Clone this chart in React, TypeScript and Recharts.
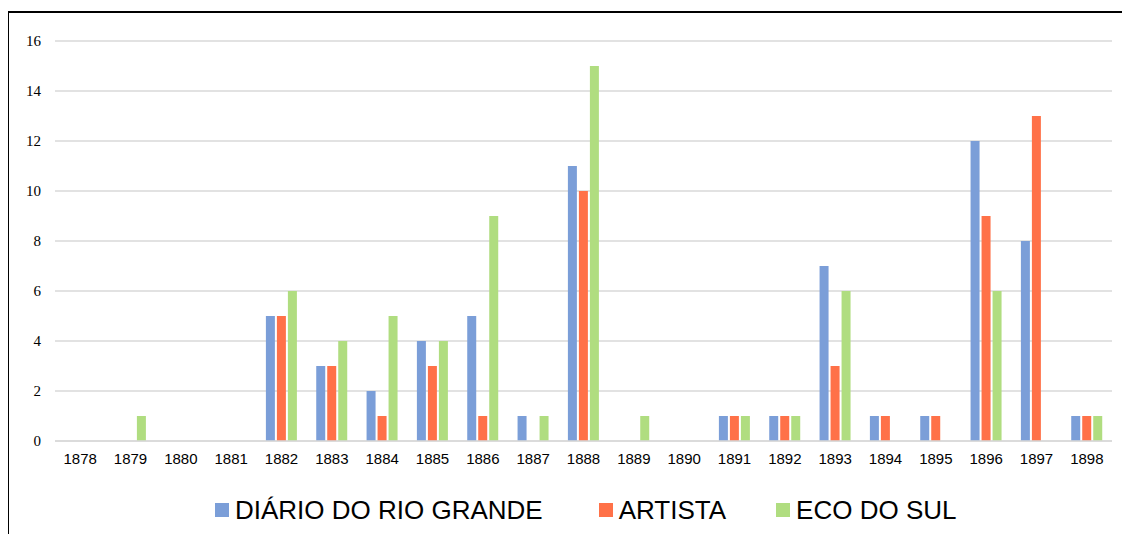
import React from 'react';
import {
  BarChart,
  Bar,
  XAxis,
  YAxis,
  CartesianGrid,
  Legend,
} from 'recharts';

const years = [
  '1878', '1879', '1880', '1881', '1882', '1883', '1884', '1885', '1886', '1887', '1888',
  '1889', '1890', '1891', '1892', '1893', '1894', '1895', '1896', '1897', '1898',
];
const diario = [0, 0, 0, 0, 5, 3, 2, 4, 5, 1, 11, 0, 0, 1, 1, 7, 1, 1, 12, 8, 1];
const artista = [0, 0, 0, 0, 5, 3, 1, 3, 1, 0, 10, 0, 0, 1, 1, 3, 1, 1, 9, 13, 1];
const ecoDoSul = [0, 1, 0, 0, 6, 4, 5, 4, 9, 1, 15, 1, 0, 1, 1, 6, 0, 0, 6, 0, 1];
const yTicks = [0, 2, 4, 6, 8, 10, 12, 14, 16];

const series = [
  { key: 'diario', name: 'DIÁRIO DO RIO GRANDE', color: '#7B9ED8', gap: 0 },
  { key: 'artista', name: 'ARTISTA', color: '#FF7148', gap: 56 },
  { key: 'eco', name: 'ECO DO SUL', color: '#B0DD80', gap: 50 },
];

const data = years.map((year, i) => ({
  year,
  diario: diario[i],
  artista: artista[i],
  eco: ecoDoSul[i],
}));

function LegendContent() {
  return (
    <div
      style={{
        height: 71,
        boxSizing: 'border-box',
        paddingTop: 7,
        paddingLeft: 215,
        display: 'flex',
        justifyContent: 'flex-start',
        fontFamily: '"Liberation Sans", Arial, sans-serif',
        fontSize: 26,
        lineHeight: '26px',
        color: '#000',
      }}
    >
      {series.map((s) => (
        <div
          key={s.key}
          style={{ display: 'flex', alignItems: 'center', marginLeft: s.gap }}
        >
          <span
            style={{ width: 14, height: 14, background: s.color, marginRight: 6, display: 'inline-block' }}
          />
          <span>{s.name}</span>
        </div>
      ))}
    </div>
  );
}

export default function App() {
  return (
    <div style={{ position: 'relative', width: 1130, height: 542, margin: -8, overflow: 'hidden', background: '#fff' }}>
      <div
        style={{
          position: 'absolute',
          left: 7,
          top: 11,
          width: 1140,
          height: 600,
          borderLeft: '2px solid #000',
          borderTop: '2px solid #000',
        }}
      />
      <div style={{ position: 'absolute', left: 0, top: 0 }}>
        <BarChart
          width={1130}
          height={542}
          data={data}
          margin={{ top: 41, right: 18, left: 0, bottom: 0 }}
          barGap={2}
          barCategoryGap="19%"
        >
          <CartesianGrid vertical={false} stroke="#d9d9d9" strokeWidth={1.5} />
          <XAxis
            dataKey="year"
            axisLine={{ stroke: '#d9d9d9', strokeWidth: 1.5 }}
            tickLine={false}
            tickSize={0}
            tickMargin={12}
            height={30}
            interval={0}
            tick={{ fontSize: 15, fill: '#000', fontFamily: 'Liberation Sans, Arial, sans-serif' }}
          />
          <YAxis
            domain={[0, 16]}
            ticks={yTicks}
            axisLine={false}
            tickLine={false}
            tickSize={0}
            tickMargin={14}
            width={55}
            tick={{ fontSize: 15, fill: '#000', fontFamily: 'Liberation Serif, Times New Roman, serif' }}
          />
          <Legend verticalAlign="bottom" content={<LegendContent />} />
          {series.map((s) => (
            <Bar
              key={s.key}
              dataKey={s.key}
              name={s.name}
              fill={s.color}
              isAnimationActive={false}
            />
          ))}
        </BarChart>
      </div>
    </div>
  );
}
